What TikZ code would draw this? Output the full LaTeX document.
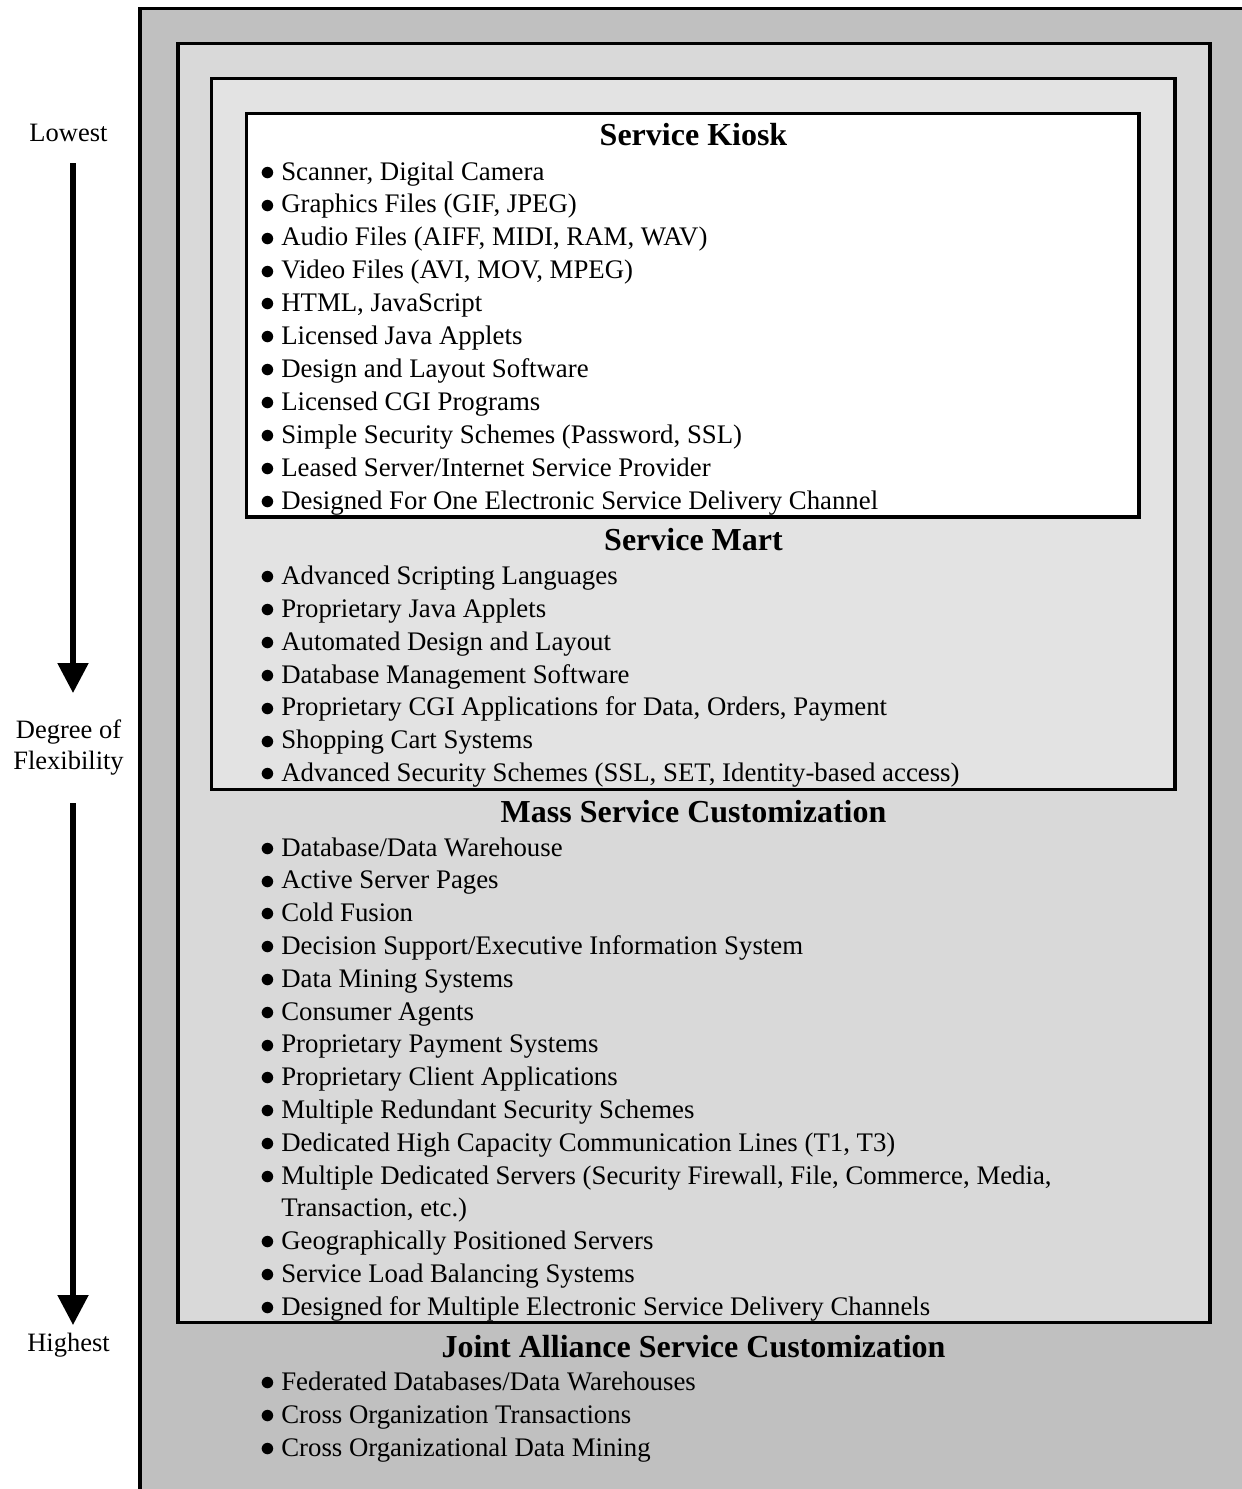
\documentclass[tikz,border=0pt]{standalone}
\usepackage{fontspec}
\setmainfont{Liberation Serif}
\usetikzlibrary{arrows.meta}
\definecolor{outerg}{gray}{0.753}
\definecolor{massg}{gray}{0.851}
\definecolor{martg}{gray}{0.89}
\newcommand{\bul}{\makebox[13.4pt][l]{\hspace{-0.5pt}\raisebox{-0.3pt}{\scalebox{1.2}{$\bullet$}}} }
\tikzset{
 box/.style={draw=black, line width=3.6pt},
 item/.style={anchor=base west, inner sep=0pt, font=\fontsize{26.8}{33}\selectfont},
 head/.style={anchor=base, inner sep=0pt, font=\fontsize{32}{38}\selectfont\bfseries},
 side/.style={anchor=base, inner sep=0pt, font=\fontsize{26.5}{31}\selectfont},
 flex/.style={line width=5.3pt, -{Triangle[width=30pt,length=30pt]}},
}
\begin{document}
\begin{tikzpicture}[x=1pt,y=-1pt]
\useasboundingbox (0,0) rectangle (1242,1489);
\clip (0,0) rectangle (1242,1489);
% nested boxes
\draw[box, fill=outerg] (140,8.5) rectangle (1280,1520);
\draw[box, fill=massg] (178,43.5) rectangle (1210,1322.5);
\draw[box, fill=martg] (211.5,78.5) rectangle (1175,789.5);
\draw[box, fill=white] (246.5,113.5) rectangle (1139,517);
% side labels and arrows
\node[side] (lowest) at (68.5,141) {Lowest};
\node[side] (degree) at (68.5,738) {Degree of};
\node[side] (flexib) at (68.5,769) {Flexibility};
\node[side] (highest) at (68.5,1351) {Highest};
\coordinate (a1s) at (73,163);
\coordinate (a1e) at (73,693);
\coordinate (a2s) at (73,803);
\coordinate (a2e) at (73,1325);
\draw[flex] (a1s) -- (a1e);
\draw[flex] (a2s) -- (a2e);
% Service Kiosk
\node[head] (kioskh) at (693.5,145) {Service Kiosk};
\foreach \t [count=\i from 0] in {
 {Scanner, Digital Camera},
 {Graphics Files (GIF, JPEG)},
 {Audio Files (AIFF, MIDI, RAM, WAV)},
 {Video Files (AVI, MOV, MPEG)},
 {HTML, JavaScript},
 {Licensed Java Applets},
 {Design and Layout Software},
 {Licensed CGI Programs},
 {Simple Security Schemes (Password, SSL)},
 {Leased Server/Internet Service Provider},
 {Designed For One Electronic Service Delivery Channel}}
 \node[item] (k\i) at (261,{180+32.9*\i}) {\bul\t};
% Service Mart
\node[head] (marth) at (693.5,550) {Service Mart};
\foreach \t [count=\i from 0] in {
 {Advanced Scripting Languages},
 {Proprietary Java Applets},
 {Automated Design and Layout},
 {Database Management Software},
 {Proprietary CGI Applications for Data, Orders, Payment},
 {Shopping Cart Systems},
 {Advanced Security Schemes (SSL, SET, Identity-based access)}}
 \node[item] (m\i) at (261,{584.5+32.85*\i}) {\bul\t};
% Mass Service Customization
\node[head] (massh) at (693.5,822) {Mass Service Customization};
\foreach \t [count=\i from 0] in {
 {\bul Database/Data Warehouse},
 {\bul Active Server Pages},
 {\bul Cold Fusion},
 {\bul Decision Support/Executive Information System},
 {\bul Data Mining Systems},
 {\bul Consumer Agents},
 {\bul Proprietary Payment Systems},
 {\bul Proprietary Client Applications},
 {\bul Multiple Redundant Security Schemes},
 {\bul Dedicated High Capacity Communication Lines (T1, T3)},
 {\bul Multiple Dedicated Servers (Security Firewall, File, Commerce, Media,},
 {\hphantom{\bul}Transaction, etc.)},
 {\bul Geographically Positioned Servers},
 {\bul Service Load Balancing Systems},
 {\bul Designed for Multiple Electronic Service Delivery Channels}}
 \node[item] (c\i) at (261,{856+32.8*\i}) {\t};
% Joint Alliance Service Customization
\node[head] (jointh) at (693.5,1357) {Joint Alliance Service Customization};
\foreach \t [count=\i from 0] in {
 {Federated Databases/Data Warehouses},
 {Cross Organization Transactions},
 {Cross Organizational Data Mining}}
 \node[item] (j\i) at (261,{1390+33*\i}) {\bul\t};
\end{tikzpicture}
\end{document}
